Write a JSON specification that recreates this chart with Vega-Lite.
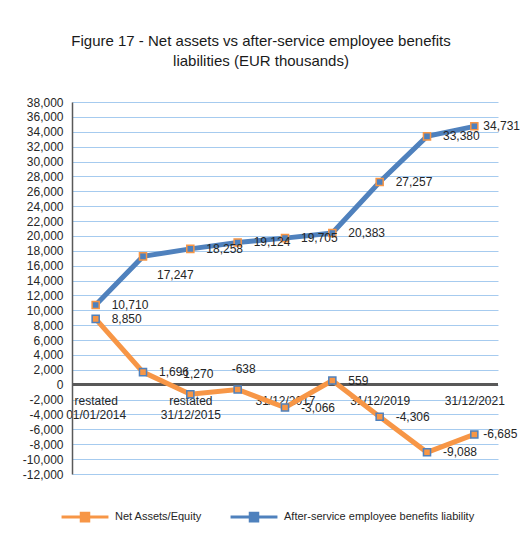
{
  "$schema": "https://vega.github.io/schema/vega-lite/v6.json",
  "width": 426,
  "height": 372,
  "autosize": "none",
  "padding": {"left": 72, "top": 102, "right": 23, "bottom": 62},
  "background": "white",
  "title": {
    "text": ["Figure 17 - Net assets vs after-service employee benefits", "liabilities (EUR thousands)"],
    "fontSize": 15,
    "font": "Liberation Sans",
    "fontWeight": "normal",
    "color": "#1a1a1a",
    "anchor": "middle",
    "frame": "group",
    "dx": -24,
    "offset": 27,
    "lineHeight": 20
  },
  "config": {
    "font": "Liberation Sans",
    "locale": {"number": {"decimal": ".", "thousands": ",", "grouping": [3], "currency": ["$", ""], "minus": "-"}},
    "view": {"stroke": null}
  },
  "data": {
    "values": [
      {"date": "2014-01-01", "series": "Net Assets/Equity", "value": 8850},
      {"date": "2014-12-31", "series": "Net Assets/Equity", "value": 1696},
      {"date": "2015-12-31", "series": "Net Assets/Equity", "value": -1270},
      {"date": "2016-12-31", "series": "Net Assets/Equity", "value": -638},
      {"date": "2017-12-31", "series": "Net Assets/Equity", "value": -3066},
      {"date": "2018-12-31", "series": "Net Assets/Equity", "value": 559},
      {"date": "2019-12-31", "series": "Net Assets/Equity", "value": -4306},
      {"date": "2020-12-31", "series": "Net Assets/Equity", "value": -9088},
      {"date": "2021-12-31", "series": "Net Assets/Equity", "value": -6685},
      {"date": "2014-01-01", "series": "After-service employee benefits liability", "value": 10710},
      {"date": "2014-12-31", "series": "After-service employee benefits liability", "value": 17247},
      {"date": "2015-12-31", "series": "After-service employee benefits liability", "value": 18258},
      {"date": "2016-12-31", "series": "After-service employee benefits liability", "value": 19124},
      {"date": "2017-12-31", "series": "After-service employee benefits liability", "value": 19705},
      {"date": "2018-12-31", "series": "After-service employee benefits liability", "value": 20383},
      {"date": "2019-12-31", "series": "After-service employee benefits liability", "value": 27257},
      {"date": "2020-12-31", "series": "After-service employee benefits liability", "value": 33380},
      {"date": "2021-12-31", "series": "After-service employee benefits liability", "value": 34731}
    ]
  },
  "encoding": {
    "x": {
      "field": "date",
      "type": "ordinal",
      "scale": {"type": "point", "padding": 0.5},
      "axis": {
        "title": null,
        "orient": "bottom",
        "offset": -89,
        "domain": false,
        "ticks": false,
        "grid": false,
        "labelAngle": 0,
        "labelPadding": 10,
        "labelFontSize": 12,
        "labelColor": "#262626",
        "labelLineHeight": 14,
        "labelOverlap": false,
        "labelExpr": "datum.value == '2014-01-01' ? ['restated', '01/01/2014'] : datum.value == '2015-12-31' ? ['restated', '31/12/2015'] : datum.value == '2017-12-31' ? '31/12/2017' : datum.value == '2019-12-31' ? '31/12/2019' : datum.value == '2021-12-31' ? '31/12/2021' : ''"
      }
    },
    "y": {
      "field": "value",
      "type": "quantitative",
      "scale": {"domain": [-12000, 38000], "nice": false, "zero": false},
      "axis": {
        "title": null,
        "values": [-12000, -10000, -8000, -6000, -4000, -2000, 0, 2000, 4000, 6000, 8000, 10000, 12000, 14000, 16000, 18000, 20000, 22000, 24000, 26000, 28000, 30000, 32000, 34000, 36000, 38000],
        "labelExpr": "replace(format(datum.value, ','), '\u2212', '-')",
        "ticks": false,
        "labelPadding": 9,
        "labelFontSize": 12,
        "labelColor": "#262626",
        "labelOverlap": false,
        "labelFlush": false,
        "domainColor": "#595959",
        "domainWidth": 1.5,
        "gridColor": "#a6cbef",
        "gridWidth": 1
      }
    }
  },
  "layer": [
    {
      "mark": {"type": "rule", "color": "#595959", "strokeWidth": 2},
      "encoding": {"x": null, "y": {"datum": 0, "type": "quantitative"}}
    },
    {
      "mark": {"type": "line", "strokeWidth": 5},
      "encoding": {
        "color": {
          "field": "series",
          "type": "nominal",
          "scale": {"domain": ["Net Assets/Equity", "After-service employee benefits liability"], "range": ["#f79646", "#4f81bd"]},
          "legend": {
            "title": null,
            "orient": "none",
            "legendX": -12,
            "legendY": 390,
            "direction": "horizontal",
            "symbolType": "M-1,0H1M-0.16,-0.16H0.16V0.16H-0.16Z",
            "symbolSize": 2200,
            "symbolStrokeWidth": 3,
            "labelFontSize": 11,
            "labelLimit": 300,
            "labelColor": "#262626",
            "columnPadding": 22,
            "labelOffset": 5,
            "encode": {"symbols": {"update": {"fill": {"scale": "color", "field": "value"}}}}
          }
        }
      }
    },
    {
      "mark": {"type": "point", "shape": "square", "filled": true, "size": 50, "strokeWidth": 1.5, "opacity": 1},
      "encoding": {
        "fill": {
          "field": "series",
          "type": "nominal",
          "scale": {"domain": ["Net Assets/Equity", "After-service employee benefits liability"], "range": ["#f79646", "#4f81bd"]},
          "legend": null
        },
        "stroke": {
          "field": "series",
          "type": "nominal",
          "scale": {"domain": ["Net Assets/Equity", "After-service employee benefits liability"], "range": ["#4f81bd", "#f79646"]},
          "legend": null
        }
      }
    },
    {
      "transform": [{"filter": "datum.value != 17247 && datum.value != -1270 && datum.value != -638 && datum.date != '2021-12-31'"}],
      "mark": {"type": "text", "align": "left", "baseline": "middle", "dx": 16, "fontSize": 12, "color": "#262626"},
      "encoding": {"text": {"field": "value", "type": "quantitative", "format": ","}}
    },
    {
      "transform": [{"filter": "datum.date == '2021-12-31'"}],
      "mark": {"type": "text", "align": "left", "baseline": "middle", "dx": 9, "fontSize": 12, "color": "#262626"},
      "encoding": {"text": {"field": "value", "type": "quantitative", "format": ","}}
    },
    {
      "transform": [{"filter": "datum.value == 17247"}],
      "mark": {"type": "text", "align": "left", "baseline": "middle", "dx": 14, "dy": 19, "fontSize": 12, "color": "#262626"},
      "encoding": {"text": {"field": "value", "type": "quantitative", "format": ","}}
    },
    {
      "transform": [{"filter": "datum.value == -1270 || datum.value == -638"}],
      "mark": {"type": "text", "align": "center", "baseline": "middle", "dx": 6, "dy": -20, "fontSize": 12, "color": "#262626"},
      "encoding": {"text": {"field": "value", "type": "quantitative", "format": ","}}
    }
  ]
}
